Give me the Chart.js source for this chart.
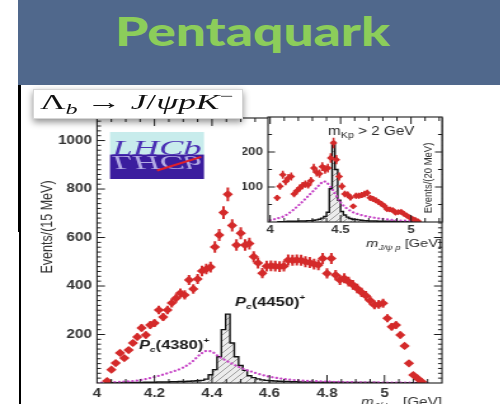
<!DOCTYPE html>
<html>
<head>
<meta charset="utf-8">
<script src="https://cdn.jsdelivr.net/npm/chart.js@4.4.1/dist/chart.umd.min.js"></script>
<style>
  html, body { margin: 0; padding: 0; background: #fff; }
  #page { position: relative; width: 500px; height: 404px; overflow: hidden; background: #fff; }
  #header { position: absolute; left: 18px; top: 0; width: 482px; height: 85px; background: #50688c; }
  #title { position: absolute; left: 115px; top: 11px; font: 900 40px 'Lato', 'Open Sans', sans-serif; line-height: 40px;
           color: #8ccd5a; white-space: nowrap; transform-origin: 0 0; }
  #barTop { position: absolute; left: 18px; top: 85px; width: 3px; height: 147px; background: #000; }
  #barLow { position: absolute; left: 19px; top: 232px; width: 2px; height: 172px; background: #000; }
  canvas.fig { position: absolute; left: 0; top: 0; transform-origin: 0 0; transform: scaleX(1.27); }
  #decay { position: absolute; left: 33px; top: 89px; width: 210px; height: 30px; background: #fff; box-sizing: border-box;
           border: 1px solid #d6d6d6; box-shadow: 0 3px 7px rgba(0,0,0,0.45); z-index: 5; }
  #decayText { position: absolute; left: 6px; top: 0; font: 22px 'Liberation Serif', 'DejaVu Serif', serif; line-height: 24px;
               white-space: nowrap; transform-origin: 0 0; color: #111; }
  #decayText .it { font-style: italic; }
  #decayText .sub { font-size: 15px; font-style: italic; position: relative; top: 5px; }
  #decayText .sup { font-size: 15px; position: relative; top: -8px; }
</style>
</head>
<body>
<div id="page">
  <div id="header"></div>
  <div id="title">Pentaquark</div>
  <div id="barTop"></div>
  <div id="barLow"></div>
  <canvas id="main" class="fig" width="394" height="404"></canvas>
  <canvas id="inset" class="fig" width="394" height="404"></canvas>
  <div id="decay"><span id="decayText">Λ<span class="sub">b</span> → <span class="it">J</span>/<span class="it">ψpK</span><span class="sup">−</span></span></div>
</div>
<script>
// ---- J/psi p invariant mass, 15 MeV bins ----
const massBins = [4.035, 4.050, 4.065, 4.080, 4.095, 4.110, 4.125, 4.140, 4.155, 4.170,
                  4.185, 4.200, 4.215, 4.230, 4.245, 4.260, 4.275, 4.290, 4.305, 4.320,
                  4.335, 4.350, 4.365, 4.380, 4.395, 4.410, 4.425, 4.440, 4.455, 4.470,
                  4.485, 4.500, 4.515, 4.530, 4.545, 4.560, 4.575, 4.590, 4.605, 4.620,
                  4.635, 4.650, 4.665, 4.680, 4.695, 4.710, 4.725, 4.740, 4.755, 4.770,
                  4.785, 4.800, 4.815, 4.830, 4.845, 4.860, 4.875, 4.890, 4.905, 4.920,
                  4.935, 4.950, 4.965, 4.980, 4.995, 5.010, 5.025, 5.040, 5.055, 5.070,
                  5.085, 5.100, 5.115, 5.130];
const events = [8, 55, 82, 124, 103, 136, 165, 190, 227, 198,
                239, 247, 301, 272, 301, 330, 350, 371, 363, 425,
                388, 429, 462, 470, 478, 561, 610, 703, 778, 650,
                569, 618, 569, 575, 521, 495, 453, 482, 483, 482,
                480, 482, 507, 506, 507, 506, 500, 497, 490, 487,
                514, 452, 514, 445, 425, 432, 418, 405, 390, 374,
                360, 340, 322, 324, 329, 267, 232, 239, 198, 153,
                81, 33, 19, 5];
// Pc(4450)+ contribution (hatched histogram)
const pc4450 = [1, 1, 1, 1, 2, 2, 2, 2, 2, 3,
                3, 3, 4, 4, 4, 5, 5, 6, 6, 7,
                8, 9, 11, 16, 34, 55, 108, 220, 284, 165,
                108, 72, 52, 30, 22, 17, 13, 11, 9, 8,
                7, 6, 6, 5, 5, 4, 4, 4, 3, 3,
                3, 3, 3, 3, 2, 2, 2, 2, 2, 2,
                2, 2, 2, 1, 1, 1, 1, 1, 1, 1,
                1, 1, 1, 1];
// Pc(4380)+ contribution (dotted curve)
const pc4380Mass = [4.00, 4.05, 4.10, 4.15, 4.20, 4.25, 4.30, 4.33, 4.36, 4.38, 4.40, 4.42, 4.45, 4.50,
                    4.55, 4.60, 4.65, 4.70, 4.80, 4.90, 5.00, 5.10, 5.15];
const pc4380 = [1, 3, 6, 12, 25, 42, 64, 87, 119, 132, 129, 112, 92, 63,
                42, 26, 17, 11, 6, 3, 2, 1, 0];

// ---- inset: m_Kp > 2 GeV, 20 MeV bins ----
const insetBins = [4.05, 4.07, 4.09, 4.11, 4.13, 4.15, 4.17, 4.19, 4.21, 4.23,
                   4.25, 4.27, 4.29, 4.31, 4.33, 4.35, 4.37, 4.39, 4.41, 4.43,
                   4.45, 4.47, 4.49, 4.51, 4.53, 4.55, 4.57, 4.59, 4.61, 4.63,
                   4.65, 4.67, 4.69, 4.71, 4.73, 4.75, 4.77, 4.79, 4.81, 4.83,
                   4.85, 4.87, 4.89, 4.91, 4.93, 4.95, 4.97, 4.99, 5.01, 5.03, 5.05];
const insetEvents = [69, 102, 135, 116, 126, 130, 80, 89, 97, 104,
                     108, 106, 118, 154, 142, 138, 158, 150, 154, 183,
                     226, 178, 130, 102, 80, 78, 70, 45, 75, 75,
                     77, 80, 83, 69, 66, 62, 57, 52, 46, 37,
                     36, 34, 27, 28, 29, 23, 18, 13, 9, 6, 2];
const insetPc4450 = [1, 1, 1, 1, 2, 2, 2, 2, 3, 3,
                     3, 4, 4, 5, 6, 8, 11, 16, 28, 95,
                     228, 150, 62, 30, 20, 14, 10, 8, 7, 6,
                     5, 4, 4, 3, 3, 3, 2, 2, 2, 2,
                     2, 2, 2, 1, 1, 1, 1, 1, 1, 1, 1];
const insetPc4380Mass = [4.00, 4.05, 4.10, 4.15, 4.20, 4.25, 4.30, 4.35, 4.38, 4.40, 4.43, 4.45, 4.50,
                         4.55, 4.60, 4.70, 4.80, 4.90, 5.00, 5.05];
const insetPc4380 = [5, 10, 17, 30, 47, 66, 86, 106, 116, 113, 100, 88, 56,
                     37, 26, 15, 9, 5, 3, 2];

// ---- axis ticks ----
const mainXTicks = [4, 4.2, 4.4, 4.6, 4.8, 5];
const mainYTicks = [200, 400, 600, 800, 1000];
const insetXTicks = [4, 4.5, 5];
const insetYTicks = [100, 200];

const SX = 1.27;              // horizontal stretch applied to the figure canvases
const RED = '#d42a2a';
const MAGENTA = '#c643c6';
const INK = '#1c1c1c';
const SANS = "'Liberation Sans', Arial, sans-serif";

function hatchPattern() {
  const c = document.createElement('canvas');
  c.width = 6; c.height = 6;
  const g = c.getContext('2d');
  g.fillStyle = '#ececec';
  g.fillRect(0, 0, 6, 6);
  g.strokeStyle = '#8a8a8a';
  g.lineWidth = 0.8;
  g.beginPath();
  g.moveTo(0, 6); g.lineTo(6, 0);
  g.moveTo(-1, 1); g.lineTo(1, -1);
  g.moveTo(5, 7); g.lineTo(7, 5);
  g.stroke();
  return g.createPattern(c, 'repeat');
}

function pairs(xs, ys) { return xs.map((x, i) => ({ x: x, y: ys[i] })); }

// Poisson error bars on the data points (dataset 0)
const errorBars = {
  id: 'errorBars',
  beforeDatasetDraw(chart, args, opts) {
    if (args.index !== 0) return;
    const { ctx, chartArea: a, scales: { x, y } } = chart;
    const ds = chart.data.datasets[0];
    const meta = chart.getDatasetMeta(0);
    ctx.save();
    ctx.beginPath();
    ctx.rect(a.left, a.top, a.right - a.left, a.bottom - a.top);
    ctx.clip();
    ctx.strokeStyle = ds.backgroundColor;
    ctx.lineWidth = opts.width;
    meta.data.forEach((pt, i) => {
      const v = ds.data[i].y;
      const err = Math.sqrt(Math.max(v, 1));
      ctx.beginPath();
      ctx.moveTo(pt.x, y.getPixelForValue(v + err));
      ctx.lineTo(pt.x, y.getPixelForValue(Math.max(v - err, 0)));
      ctx.moveTo(x.getPixelForValue(ds.data[i].x - opts.half), pt.y);
      ctx.lineTo(x.getPixelForValue(ds.data[i].x + opts.half), pt.y);
      ctx.stroke();
    });
    ctx.restore();
  }
};

// frame with inward ticks on all four sides
function drawFrame(chart, f) {
  const { ctx, chartArea: a, scales: { x, y } } = chart;
  ctx.save();
  ctx.strokeStyle = INK;
  ctx.lineWidth = 1.1;
  ctx.strokeRect(a.left, a.top, a.right - a.left, a.bottom - a.top);
  ctx.lineWidth = 1;
  ctx.beginPath();
  for (let k = 0; ; k++) {
    const v = f.xStart + k * f.xStep;
    if (v > x.max + 1e-9) break;
    const px = x.getPixelForValue(v);
    if (px < a.left + 0.5 || px > a.right - 0.5) continue;
    const len = (k % f.xEvery === 0) ? f.major : f.minor;
    ctx.moveTo(px, a.bottom); ctx.lineTo(px, a.bottom - len);
    ctx.moveTo(px, a.top); ctx.lineTo(px, a.top + len);
  }
  for (let k = 0; ; k++) {
    const v = f.yStart + k * f.yStep;
    if (v > y.max + 1e-9) break;
    const py = y.getPixelForValue(v);
    if (py < a.top + 0.5 || py > a.bottom - 0.5) continue;
    const len = ((k % f.yEvery === 0) ? f.major : f.minor) / SX;
    ctx.moveTo(a.left, py); ctx.lineTo(a.left + len, py);
    ctx.moveTo(a.right, py); ctx.lineTo(a.right - len, py);
  }
  ctx.stroke();
  ctx.restore();
}

// text run with sub/superscripts
function rich(ctx, parts, x, y, align) {
  let w = 0;
  parts.forEach(p => { ctx.font = p.font; p.w = ctx.measureText(p.t).width; w += p.w; });
  let cx = align === 'right' ? x - w : (align === 'center' ? x - w / 2 : x);
  ctx.textAlign = 'left';
  ctx.textBaseline = 'alphabetic';
  parts.forEach(p => { ctx.font = p.font; ctx.fillText(p.t, cx, y + (p.dy || 0)); cx += p.w; });
}

function drawLogo(ctx, x0, y0, w, h) {
  const mid = y0 + h * 0.48;
  ctx.save();
  ctx.fillStyle = '#c8ecec';
  ctx.fillRect(x0, y0, w, mid - y0);
  ctx.fillStyle = '#3b1d9e';
  ctx.fillRect(x0, mid, w, y0 + h - mid);
  ctx.font = "italic 22px 'Liberation Serif', serif";
  const tw = ctx.measureText('LHCb').width;
  const k = (w - 4) / tw;
  // reflection
  ctx.save();
  ctx.beginPath(); ctx.rect(x0, mid, w, y0 + h - mid); ctx.clip();
  ctx.translate(x0 + 2, mid + 1);
  ctx.scale(k, -0.9);
  ctx.fillStyle = 'rgba(200,195,240,0.85)';
  ctx.fillText('LHCb', 0, 0);
  ctx.restore();
  // wordmark
  ctx.save();
  ctx.translate(x0 + 2, mid);
  ctx.scale(k, 1);
  ctx.fillStyle = '#4a2fb4';
  ctx.fillText('LHCb', 0, 0);
  ctx.restore();
  ctx.strokeStyle = '#e0202a';
  ctx.lineWidth = 2;
  ctx.beginPath();
  ctx.moveTo(x0 + w * 0.5, y0 + h * 0.82);
  ctx.lineTo(x0 + w * 0.97, y0 + h * 0.53);
  ctx.stroke();
  ctx.restore();
}

const mainDecor = {
  id: 'mainDecor',
  afterDraw(chart) {
    const { ctx, scales: { x, y } } = chart;
    drawFrame(chart, { xStart: 4, xStep: 0.05, xEvery: 4, yStart: 0, yStep: 20, yEvery: 10, major: 8, minor: 4 });
    ctx.save();
    ctx.fillStyle = '#333';
    // y title
    ctx.save();
    ctx.translate(48 / SX, 227);
    ctx.rotate(-Math.PI / 2);
    ctx.font = '12.5px ' + SANS;
    ctx.textAlign = 'center';
    ctx.textBaseline = 'middle';
    ctx.fillText('Events/(15 MeV)', 0, 0);
    ctx.restore();
    // x title
    rich(ctx, [
      { t: 'm', font: 'italic 12px ' + SANS },
      { t: 'J/ψ p', font: 'italic 8.5px ' + SANS, dy: 3 },
      { t: ' [GeV]', font: '12px ' + SANS }
    ], chart.chartArea.right, 406, 'right');
    // component labels
    ctx.fillStyle = '#1a1a1a';
    rich(ctx, [
      { t: 'P', font: 'italic bold 13px ' + SANS },
      { t: 'c', font: 'italic bold 8px ' + SANS, dy: 3 },
      { t: '(4450)', font: 'bold 13px ' + SANS },
      { t: '+', font: 'bold 8px ' + SANS, dy: -6 }
    ], x.getPixelForValue(4.48), y.getPixelForValue(318), 'left');
    rich(ctx, [
      { t: 'P', font: 'italic bold 13px ' + SANS },
      { t: 'c', font: 'italic bold 8px ' + SANS, dy: 3 },
      { t: '(4380)', font: 'bold 13px ' + SANS },
      { t: '+', font: 'bold 8px ' + SANS, dy: -6 }
    ], x.getPixelForValue(4.146), y.getPixelForValue(140), 'left');
    ctx.restore();
    drawLogo(ctx, 110 / SX, 132, 94 / SX, 47);
  }
};

const insetDecor = {
  id: 'insetDecor',
  beforeDraw(chart) {
    const { ctx, chartArea: a } = chart;
    ctx.save();
    ctx.fillStyle = '#fff';
    ctx.fillRect(a.left, a.top, a.right - a.left, a.bottom - a.top);
    ctx.restore();
  },
  afterDraw(chart) {
    const { ctx, chartArea: a } = chart;
    drawFrame(chart, { xStart: 4, xStep: 0.1, xEvery: 5, yStart: 0, yStep: 50, yEvery: 2, major: 7, minor: 4 });
    ctx.save();
    ctx.fillStyle = '#2a2a2a';
    rich(ctx, [
      { t: 'm', font: '12px ' + SANS },
      { t: 'Kp', font: '8.5px ' + SANS, dy: 3 },
      { t: ' > 2 GeV', font: '12px ' + SANS }
    ], 328 / SX, 135, 'left');
    ctx.save();
    ctx.translate(428 / SX, 178);
    ctx.rotate(-Math.PI / 2);
    ctx.font = '9.5px ' + SANS;
    ctx.textAlign = 'center';
    ctx.textBaseline = 'middle';
    ctx.fillText('Events/(20 MeV)', 0, 0);
    ctx.restore();
    rich(ctx, [
      { t: 'm', font: 'italic 11.5px ' + SANS },
      { t: 'J/ψ p', font: 'italic 7.5px ' + SANS, dy: 3 },
      { t: ' [GeV]', font: '11.5px ' + SANS }
    ], a.right, 247, 'right');
    ctx.restore();
  }
};

const hatch = hatchPattern();

function figOptions(o) {
  return {
    responsive: false,
    animation: false,
    events: [],
    layout: { padding: o.padding },
    plugins: { legend: { display: false }, tooltip: { enabled: false }, errorBars: o.err },
    scales: {
      x: {
        type: 'linear', min: o.xMin, max: o.xMax,
        grid: { display: false, drawTicks: false }, border: { display: false },
        afterFit: s => { s.height = o.xHeight; },
        afterBuildTicks: s => { s.ticks = o.xTicks.map(v => ({ value: v })); },
        ticks: { autoSkip: false, maxRotation: 0, padding: o.xPad, color: '#333',
                 font: { family: SANS, size: o.tickSize, weight: 'bold' }, callback: v => String(v) }
      },
      y: {
        type: 'linear', min: 0, max: o.yMax,
        grid: { display: false, drawTicks: false }, border: { display: false },
        afterFit: s => { s.width = o.yWidth; },
        afterBuildTicks: s => { s.ticks = o.yTicks.map(v => ({ value: v })); },
        ticks: { autoSkip: false, padding: o.yPad, color: '#333',
                 font: { family: SANS, size: o.tickSize, weight: 'bold' }, callback: v => String(v) }
      }
    }
  };
}

function figData(bins, counts, histVals, curveX, curveY, r) {
  return {
    datasets: [
      { data: pairs(bins, counts), showLine: false, pointStyle: 'rectRot', pointRadius: r,
        backgroundColor: RED, borderColor: RED, pointBorderWidth: 0 },
      { data: pairs(curveX, curveY), borderColor: MAGENTA, borderWidth: 2.2, borderDash: [0.1, 3.4],
        borderCapStyle: 'round', pointRadius: 0, cubicInterpolationMode: 'monotone', fill: false },
      { data: pairs(bins, histVals), stepped: 'middle', borderColor: '#111', borderWidth: 1.4,
        pointRadius: 0, fill: 'origin', backgroundColor: hatch }
    ]
  };
}

new Chart(document.getElementById('main'), {
  type: 'line',
  data: figData(massBins, events, pc4450, pc4380Mass, pc4380, 4.1),
  options: figOptions({
    padding: { left: 0, top: 118, right: 394 - 442 / SX, bottom: 0 },
    xMin: 4, xMax: 5.2, yMax: 1093, xTicks: mainXTicks, yTicks: mainYTicks,
    xHeight: 21, yWidth: 97 / SX, xPad: 3, yPad: 4, tickSize: 12,
    err: { width: 2, half: 0.0075 }
  }),
  plugins: [errorBars, mainDecor]
});

new Chart(document.getElementById('inset'), {
  type: 'line',
  data: figData(insetBins, insetEvents, insetPc4450, insetPc4380Mass, insetPc4380, 3.1),
  options: figOptions({
    padding: { left: 268 / SX - 20, top: 117, right: 394 - 442 / SX, bottom: 404 - 222 - 14 },
    xMin: 3.985, xMax: 5.22, yMax: 300, xTicks: insetXTicks, yTicks: insetYTicks,
    xHeight: 14, yWidth: 20, xPad: 2, yPad: 4, tickSize: 10.5,
    err: { width: 1.6, half: 0.01 }
  }),
  plugins: [errorBars, insetDecor]
});

// stretch header texts to their boxes
function fitWidth(el, target) {
  el.style.transform = 'none';
  const w = el.getBoundingClientRect().width;
  if (w > 0) el.style.transform = 'scaleX(' + (target / w) + ')';
}
function fitTexts() {
  fitWidth(document.getElementById('title'), 275);
  fitWidth(document.getElementById('decayText'), 193);
}
fitTexts();
if (document.fonts && document.fonts.ready) document.fonts.ready.then(fitTexts);
</script>
</body>
</html>
